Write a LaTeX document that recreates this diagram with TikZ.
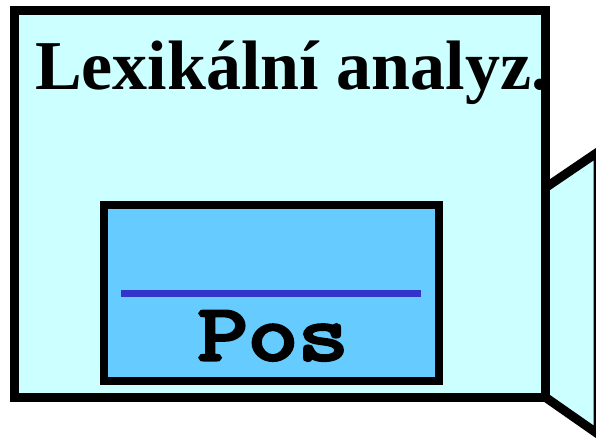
\documentclass[tikz,border=0pt]{standalone}
\usepackage{fontspec}
\usepackage{graphicx}
\setmainfont{Liberation Serif}
\newfontfamily\courfont[FakeBold=4]{Latin Modern Mono}
\definecolor{lightcyan}{HTML}{CCFFFF}
\definecolor{skyfill}{HTML}{66CCFF}
\definecolor{barblue}{HTML}{3333CC}
\begin{document}
\begin{tikzpicture}[x=1pt,y=-1pt,
  frame/.style={draw=black,line width=9pt,line join=miter},
  outerbox/.style={frame,fill=lightcyan},
  innerbox/.style={draw=black,line width=8.5pt,fill=skyfill},
  bar/.style={draw=barblue,line width=7pt}]
\useasboundingbox (0,0) rectangle (596,438);
% side flap
\filldraw[outerbox] (545,188) coordinate (f1) -- (598,152) coordinate (f2) -- (598,434) coordinate (f3) -- (545,397) coordinate (f4) -- cycle;
% main box
\node[outerbox,minimum width=531pt,minimum height=386pt,inner sep=0pt,outer sep=0pt,anchor=north west] (outer) at (14,11) {};
% inner box
\node[innerbox,minimum width=335pt,minimum height=176pt,inner sep=0pt,outer sep=0pt,anchor=north west] (inner) at (104,205) {};
\coordinate (b1) at (121,293.5);
\coordinate (b2) at (421,293.5);
\draw[bar] (b1) -- (b2);
\node[anchor=base,inner sep=0pt,font=\courfont\fontsize{80}{80}\selectfont] (pos) at (273,360) {\scalebox{1.22}[1]{Pos}};
\node[anchor=base west,inner sep=0pt,font=\bfseries\fontsize{70}{70}\selectfont] (title) at (35,90) {Lexikální analyz.};
\end{tikzpicture}
\end{document}
